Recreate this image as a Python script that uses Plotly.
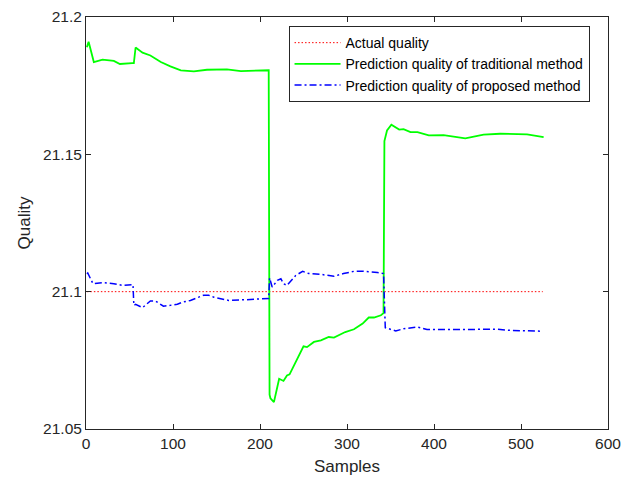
import plotly.graph_objects as go

# ---- data ----
actual_x = [1, 525]
actual_y = [21.1, 21.1]

trad_x = [1, 3, 9, 19, 32, 39, 53, 55, 57, 65, 74, 86, 97, 109, 124, 139, 162, 178, 210,
          211, 212, 216, 219, 222, 227, 231, 234, 241, 250, 254, 262, 270, 279, 285, 298,
          308, 318, 325, 331, 339, 342, 343, 346, 351, 360, 365, 373, 381, 394, 411, 436,
          457, 476, 507, 526]
trad_y = [21.189, 21.191, 21.1836, 21.1845, 21.184, 21.1829, 21.1832, 21.1832, 21.1889,
          21.187, 21.186, 21.1836, 21.182, 21.1806, 21.1802, 21.1808, 21.1809, 21.1803,
          21.1806, 21.0625, 21.0612, 21.0598, 21.064, 21.0683, 21.0675, 21.0695, 21.0699,
          21.0744, 21.0801, 21.0798, 21.0817, 21.0823, 21.0835, 21.0833, 21.0853, 21.0863,
          21.0884, 21.0906, 21.0906, 21.0914, 21.0922, 21.1548, 21.1587, 21.1608, 21.159,
          21.1592, 21.1581, 21.1581, 21.1569, 21.157, 21.1558, 21.1572, 21.1575, 21.1573,
          21.1563]

prop_x = [1, 2, 8, 19, 32, 42, 54, 55, 57, 65, 74, 80, 89, 105, 111, 120, 135, 141, 147,
          164, 185, 210, 211, 214, 220, 224, 227, 231, 241, 249, 256, 270, 285, 296, 308,
          319, 335, 342, 344, 356, 365, 381, 392, 415, 446, 473, 488, 507, 525]
prop_y = [21.1065, 21.1068, 21.1029, 21.1033, 21.1029, 21.1023, 21.1026, 21.095, 21.0954,
          21.0942, 21.0966, 21.0966, 21.0947, 21.0954, 21.0962, 21.0968, 21.0987, 21.0987,
          21.098, 21.0968, 21.0971, 21.0975, 21.105, 21.1017, 21.1041, 21.1047, 21.1029,
          21.1023, 21.1059, 21.1074, 21.1066, 21.1063, 21.1056, 21.1066, 21.1074, 21.1074,
          21.107, 21.1066, 21.0869, 21.0857, 21.0865, 21.0871, 21.0862, 21.0862, 21.0862,
          21.0863, 21.0859, 21.0857, 21.0856]

x_ticks = [0, 100, 200, 300, 400, 500, 600]
y_ticks = [21.05, 21.1, 21.15, 21.2]
y_tick_text = ["21.05", "21.1", "21.15", "21.2"]

FONT = "Liberation Sans, Arial, sans-serif"
AX = "#262626"

fig = go.Figure()
fig.add_trace(go.Scatter(x=actual_x, y=actual_y, mode="lines", name="Actual quality",
                         line=dict(color="#ff0000", width=1, dash="1.5px,2px")))
fig.add_trace(go.Scatter(x=trad_x, y=trad_y, mode="lines",
                         name="Prediction quality of traditional method",
                         line=dict(color="#00ff00", width=1.8)))
fig.add_trace(go.Scatter(x=prop_x, y=prop_y, mode="lines",
                         name="Prediction quality of proposed method",
                         line=dict(color="#0000ff", width=1.5, dash="7px,3px,2px,3px")))

axis_common = dict(showgrid=False, zeroline=False, showline=True, linecolor=AX, linewidth=1,
                   mirror="ticks", ticks="inside", ticklen=5, tickcolor=AX, automargin=False,
                   tickfont=dict(family=FONT, size=15.5, color=AX))

fig.update_layout(
    width=622, height=480,
    margin=dict(l=86, r=14, t=17, b=51),
    paper_bgcolor="white", plot_bgcolor="white",
    font=dict(family=FONT, color=AX),
    xaxis=dict(range=[0, 600], tickvals=x_ticks,
               title=dict(text="Samples", font=dict(family=FONT, size=17, color=AX), standoff=9),
               **axis_common),
    yaxis=dict(range=[21.05, 21.2], tickvals=y_ticks, ticktext=y_tick_text,
               title=dict(text="Quality", font=dict(family=FONT, size=17, color=AX), standoff=8),
               **axis_common),
    legend=dict(x=0.388, y=0.978, xanchor="left", yanchor="top",
                bgcolor="white", bordercolor=AX, borderwidth=1, itemwidth=46,
                font=dict(family=FONT, size=14, color="#000000"),
                tracegroupgap=0),
    showlegend=True,
)

fig.write_html("out.html")
